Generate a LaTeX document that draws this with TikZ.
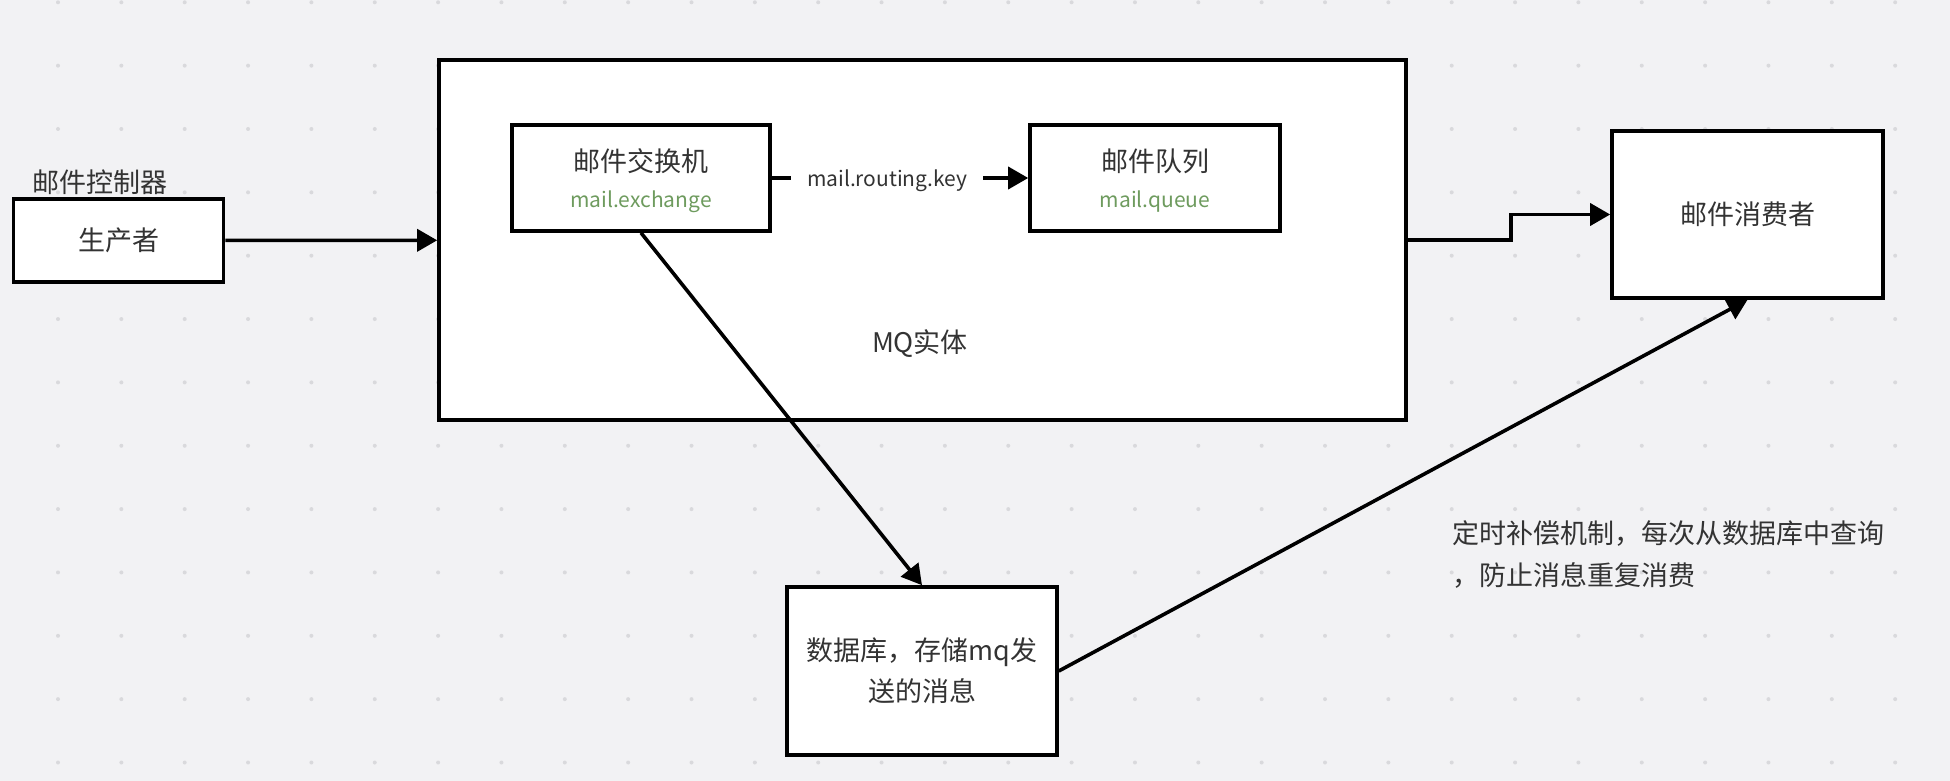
\documentclass[tikz,border=0pt]{standalone}
\usepackage{fontspec}
\setmainfont{Noto Sans CJK SC}
\usetikzlibrary{arrows.meta}
\definecolor{canvas}{HTML}{F2F2F4}
\definecolor{griddot}{HTML}{D9D9DC}
\definecolor{ink}{HTML}{333333}
\definecolor{mailgreen}{HTML}{6E9B5E}

\begin{document}
\begin{tikzpicture}[x=0.5pt, y=-0.5pt, font=\fontsize{13.5}{18}\selectfont, >={Triangle[length=10pt,width=11pt]},
    box/.style={draw=black, line width=1.8pt, fill=white, text=ink, align=center, inner sep=0pt},
    flow/.style={->, line width=1.8pt},
    tag/.style={text=ink, inner sep=0pt}]
    \fill[canvas] (0,0) rectangle (1950,781);
    \foreach \i in {0,...,29} \foreach \j in {0,...,12}
      \fill[griddot] (58+63.35*\i, 2.3+63.35*\j) circle (2);
    \node[tag, anchor=west] (ctrl) at (32,182) {邮件控制器};
    \node[box, minimum width=105pt, minimum height=41.5pt] (prod) at (118.5,240.5) {生产者};
    \node[box, minimum width=483.5pt, minimum height=180pt] (mq) at (922.5,240) {};
    \node[tag] (mqname) at (920,344) {MQ实体};
    \node[box, minimum width=129pt, minimum height=53pt, text depth=0pt] (ex) at (641,178) {邮件交换机\\{\color{mailgreen}\fontsize{10.5}{18}\selectfont mail.exchange}};
    \node[box, minimum width=125pt, minimum height=53pt, text depth=0pt] (q) at (1155,178) {邮件队列\\{\color{mailgreen}\fontsize{10.5}{18}\selectfont mail.queue}};
    \node[box, minimum width=135.5pt, minimum height=83.5pt] (cons) at (1747.5,214.5) {邮件消费者};
    \node[box, minimum width=135pt, minimum height=84pt, font=\fontsize{13.5}{20.5}\selectfont] (db) at (922,671) {数据库，存储mq发\\送的消息};
    \node[tag, anchor=west, align=left, font=\fontsize{13.5}{21}\selectfont] (note) at (1452,555) {定时补偿机制，每次从数据库中查询\\，防止消息重复消费};
    \draw[flow] (prod) -- (mq);
    \draw[flow] (ex) -- node[pos=0.45, fill=white, text=ink, font=\fontsize{10.5}{13}\selectfont, inner xsep=8pt, yshift=-1.5pt] (rkey) {mail.routing.key} (q);
    \draw[flow] (mq.east) -- ++(103,0) |- (cons.west);
    \draw[flow] (ex.south) -- (db.north);
    \draw[flow] (db.east) -- (cons.south);
  \end{tikzpicture}
\end{document}
